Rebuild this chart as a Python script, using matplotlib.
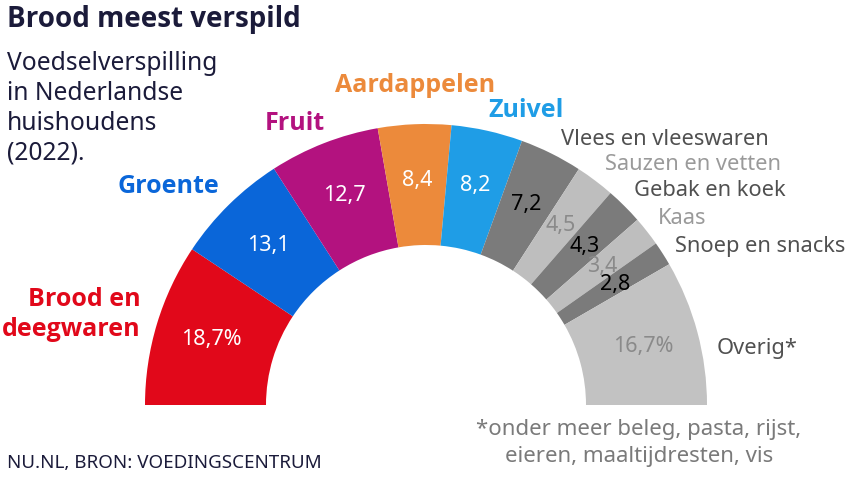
import matplotlib.pyplot as plt
import numpy as np

plt.rcParams['font.family'] = ['Noto Sans', 'DejaVu Sans']

# data
categories = ["Brood en deegwaren", "Groente", "Fruit", "Aardappelen", "Zuivel",
              "Vlees en vleeswaren", "Sauzen en vetten", "Gebak en koek", "Kaas",
              "Snoep en snacks", "Overig*"]
values = [18.7, 13.1, 12.7, 8.4, 8.2, 7.2, 4.5, 4.3, 3.4, 2.8, 16.7]
value_labels = ["18,7%", "13,1", "12,7", "8,4", "8,2", "7,2", "4,5", "4,3", "3,4", "2,8", "16,7%"]

colors = ["#e1081a", "#0a66d9", "#b3127f", "#ec8a3b", "#1f9de6",
          "#7b7b7b", "#bebebe", "#7b7b7b", "#bebebe", "#7b7b7b", "#c2c2c2"]
value_colors = ["white", "white", "white", "white", "white",
                "black", "#8a8a8a", "black", "#8a8a8a", "black", "#8a8a8a"]

W, H = 854, 480
fig = plt.figure(figsize=(W / 100, H / 100), dpi=100)
ax = fig.add_axes([0, 0, 1, 1])

cx, cy = 426, H - 405
r_out, r_in = 281, 160

# half donut: invisible second half
wedges, _ = ax.pie(values + [sum(values)], colors=colors + ["none"],
                   startangle=180, counterclock=False, radius=r_out,
                   center=(cx, cy), frame=True,
                   wedgeprops=dict(width=r_out - r_in, linewidth=0))
ax.set_xlim(0, W)
ax.set_ylim(0, H)
ax.set_aspect('equal')
ax.axis('off')

r_mid = (r_out + r_in) / 2 + 4
for w, lab, c in zip(wedges[:-1], value_labels, value_colors):
    a = np.deg2rad((w.theta1 + w.theta2) / 2)
    ax.text(cx + r_mid * np.cos(a), cy + r_mid * np.sin(a), lab,
            color=c, fontsize=15.5, ha='center', va='center')


def txt(x, y, s, **kw):
    ax.text(x, H - y, s, va='baseline', **kw)


bold_family = ['Open Sans', 'Noto Sans', 'DejaVu Sans']
navy = "#1b1b3a"
txt(7, 27, "Brood meest verspild", fontsize=20, fontweight='bold', color=navy, family=bold_family)
for i, line in enumerate(["Voedselverspilling", "in Nederlandse", "huishoudens", "(2022)."]):
    txt(7, 70 + 30 * i, line, fontsize=17.7, color=navy)

bold_kw = dict(fontsize=18, fontweight='bold', family=bold_family)
txt(141, 306, "Brood en", color=colors[0], ha='right', **bold_kw)
txt(141, 336, "deegwaren", color=colors[0], ha='right', **bold_kw)
txt(118, 193, categories[1], color=colors[1], **bold_kw)
txt(265, 130, categories[2], color=colors[2], **bold_kw)
txt(335, 92, categories[3], color=colors[3], **bold_kw)
txt(488, 117, categories[4], color=colors[4], **bold_kw)

dark_lab, light_lab = "#505050", "#9a9a9a"
reg_kw = dict(fontsize=15.7)
txt(561, 145, categories[5], color=dark_lab, **reg_kw)
txt(605, 170, categories[6], color=light_lab, **reg_kw)
txt(634, 196, categories[7], color=dark_lab, **reg_kw)
txt(658, 224, categories[8], color=light_lab, **reg_kw)
txt(675, 252, categories[9], color=dark_lab, **reg_kw)
txt(717, 354, categories[10], color=dark_lab, **reg_kw)

txt(639, 435, "*onder meer beleg, pasta, rijst,", color="#7a7a7a", ha='center', fontsize=16)
txt(639, 462, "eieren, maaltijdresten, vis", color="#7a7a7a", ha='center', fontsize=16)

txt(7, 468, "NU.NL, BRON: VOEDINGSCENTRUM", color=navy, fontsize=13.5)

fig.savefig("out.png", dpi=100)
